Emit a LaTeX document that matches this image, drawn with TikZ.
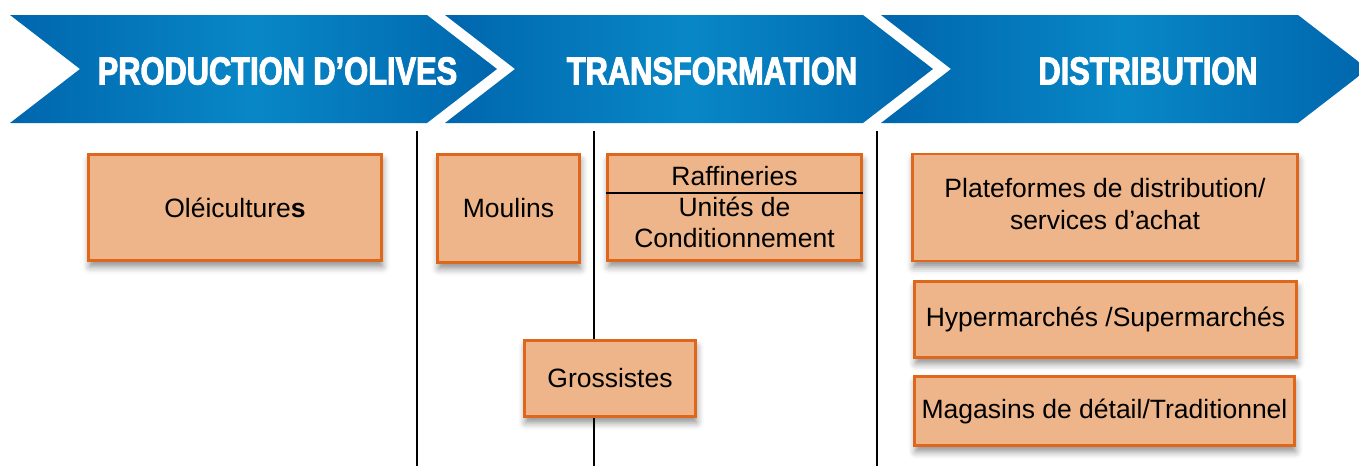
\documentclass[tikz,border=0pt]{standalone}
\usepackage{fontspec}
\setmainfont{Liberation Sans}
\newfontfamily\headfont[FakeStretch=0.79,FakeBold=2.5]{Liberation Sans Bold}
\usepackage{tikz}
\usetikzlibrary{
	shadows.blur
}
\definecolor{hdBlue}{RGB}{0,102,174}
\definecolor{hdLight}{RGB}{8,135,198}
\definecolor{boxFill}{RGB}{237,181,137}
\definecolor{boxLine}{RGB}{222,103,28}
\newcommand{\ctlines}[1]{
	\begin{tabular}{c}
		#1
	\end{tabular}
}

\begin{document}
\begin{tikzpicture}[x=1pt,y=-1pt,
		chevron/.style={left color=hdBlue,right color=hdBlue,middle color=hdLight},
		header/.style={text=white,font=\headfont\fontsize{39pt}{39pt}\selectfont},
		stage/.style={draw=boxLine,line width=2.5pt,fill=boxFill,inner sep=0pt,
			font=\fontsize{26.5pt}{32pt}\selectfont,
			blur shadow={shadow xshift=1pt,shadow yshift=-6pt,shadow blur radius=7pt,shadow opacity=45}},
		sep/.style={line width=1.2pt,black}]
			\useasboundingbox (0,0) rectangle (1359,466);

			\foreach \xa/\xb in {10/427,445/863,881/1298}
				\shade[chevron] (\xa,15) -- (\xb,15) -- (\xb+70,69) -- (\xb,123) -- (\xa,123) -- (\xa+70,69) -- cycle;

			\draw
				node[header] (prod)  at (277.5,71) {PRODUCTION D’OLIVES}
				node[header] (trans) at (712,71)   {TRANSFORMATION}
				node[header] (distr) at (1148,71)  {DISTRIBUTION}
			;

			\foreach \xs in {417,594,877}
				\draw[sep] (\xs,131) -- (\xs,466);

			\node[stage,minimum width=293pt,minimum height=106pt] (olei)  at (235,207.5)   {Oléiculture\textbf{s}};
			\node[stage,minimum width=142pt,minimum height=108pt] (moul)  at (508.5,208.5) {Moulins};
			\node[stage,minimum width=254pt,minimum height=106pt] (raff)  at (734.5,207.5) {};
			\node[stage,minimum width=171pt,minimum height=76pt]  (gros)  at (610,378.5)   {Grossistes};
			\node[stage,minimum width=385pt,minimum height=107pt] (plat)  at (1105,207.5)  {\ctlines{Plateformes de distribution/ \\ services d’achat}};
			\node[stage,minimum width=382pt,minimum height=76pt]  (hyper) at (1105.5,319.5) {Hypermarchés /Supermarchés};
			\node[stage,minimum width=380pt,minimum height=69pt]  (maga)  at (1104.5,411)  {Magasins de détail/Traditionnel};

			\node[font=\fontsize{26.5pt}{31pt}\selectfont] (raffTop) at (734.5,176.5) {Raffineries};
			\node[font=\fontsize{26.5pt}{31pt}\selectfont] (raffBot) at (734.5,226) {\ctlines{Unités de \\ Conditionnement}};
			\draw[line width=1.2pt] ([yshift=14.5pt]raff.west) -- ([yshift=14.5pt]raff.east);
		\end{tikzpicture}
\end{document}
